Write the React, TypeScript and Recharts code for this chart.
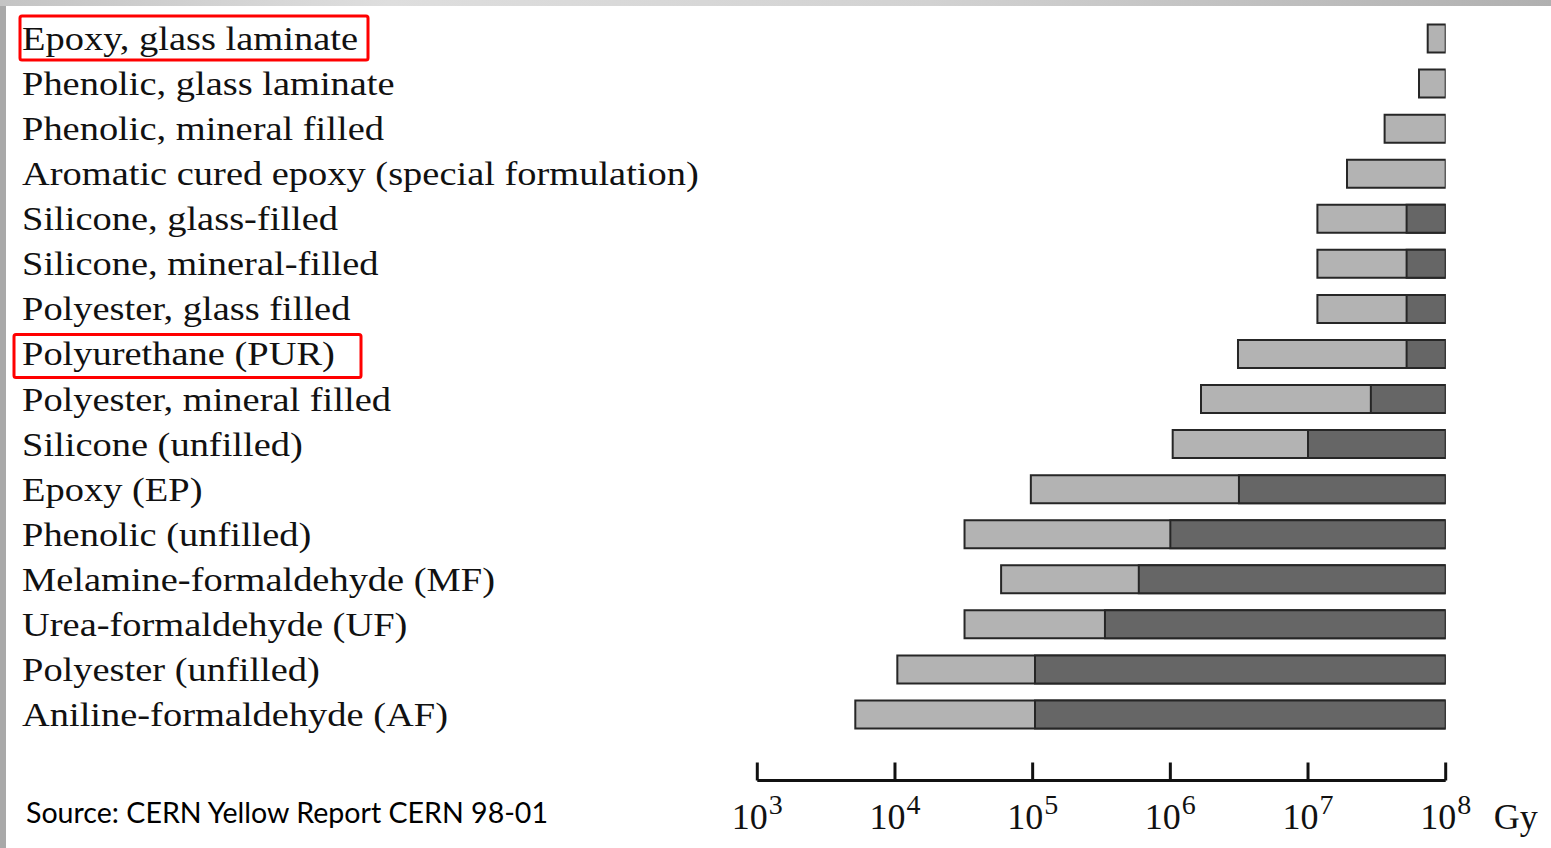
import React from "react";
import { BarChart, Bar, XAxis, YAxis } from "recharts";

const materials = [
  "Epoxy, glass laminate",
  "Phenolic, glass laminate",
  "Phenolic, mineral filled",
  "Aromatic cured epoxy (special formulation)",
  "Silicone, glass-filled",
  "Silicone, mineral-filled",
  "Polyester, glass filled",
  "Polyurethane (PUR)",
  "Polyester, mineral filled",
  "Silicone (unfilled)",
  "Epoxy (EP)",
  "Phenolic (unfilled)",
  "Melamine-formaldehyde (MF)",
  "Urea-formaldehyde (UF)",
  "Polyester (unfilled)",
  "Aniline-formaldehyde (AF)",
];

// dose (Gy) where the light band starts
const lightStart = [
  7.4e7, 6.4e7, 3.6e7, 1.92e7, 1.17e7, 1.17e7, 1.17e7, 3.1e6,
  1.67e6, 1.04e6, 9.7e4, 3.2e4, 5.9e4, 3.2e4, 1.04e4, 5.15e3,
];

// dose (Gy) where the dark band starts (null = no dark band)
const darkStart: (number | null)[] = [
  null, null, null, null, 5.2e7, 5.2e7, 5.2e7, 5.2e7,
  2.86e7, 1e7, 3.15e6, 1e6, 5.9e5, 3.35e5, 1.04e5, 1.04e5,
];

const maxDose = 1e8;
const doseTicks = [1e3, 1e4, 1e5, 1e6, 1e7, 1e8];
const highlighted = ["Epoxy, glass laminate", "Polyurethane (PUR)"];

const data = materials.map((name, i) => ({
  name,
  light: [lightStart[i], maxDose],
  dark: darkStart[i] === null ? null : [darkStart[i], maxDose],
}));

const serif = "'Liberation Serif', 'Times New Roman', serif";

const LabelTick = (props: any) => {
  const { y, payload } = props;
  const name: string = payload.value;
  const idx = highlighted.indexOf(name);
  return (
    <g>
      {idx === 0 && (
        <rect x={20} y={y - 22} width={348} height={44} rx={2} fill="none" stroke="#ff0000" strokeWidth={3} />
      )}
      {idx === 1 && (
        <rect x={14} y={y - 19} width={347} height={43} rx={2} fill="none" stroke="#ff0000" strokeWidth={3} />
      )}
      <text
        transform={`translate(22 ${y + 12}) scale(1.115 1)`}
        fontFamily={serif}
        fontSize={34.5}
        fill="#111"
      >
        {name}
      </text>
    </g>
  );
};

const PowerTick = (props: any) => {
  const { x, y, payload } = props;
  const exp = Math.round(Math.log10(payload.value));
  return (
    <g>
      <line x1={x} y1={y - 18} x2={x} y2={y} stroke="#111" strokeWidth={3} />
      <text x={x} y={y + 48} textAnchor="middle" fontFamily={serif} fontSize={36} fill="#111">
        <tspan>10</tspan>
        <tspan dx={1} dy={-15} fontSize={28}>{exp}</tspan>
      </text>
      {payload.value === maxDose && (
        <text x={x + 48} y={y + 48} fontFamily={serif} fontSize={36} fill="#111">
          Gy
        </text>
      )}
    </g>
  );
};

export default function App() {
  return (
    <div style={{ position: "absolute", left: 0, top: 0, width: 1551, height: 848, background: "#fff", overflow: "hidden" }}>
      <div
        style={{
          position: "absolute",
          left: 0,
          top: 0,
          width: 1551,
          height: 6,
          background: "linear-gradient(to right, #c4c4c4, #dedede 25%, #d2d2d2 60%, #b0b0b0)",
        }}
      />
      <div style={{ position: "absolute", left: 0, top: 6, width: 6, height: 842, background: "#a9a9a9" }} />
      <BarChart
        width={1551}
        height={848}
        layout="vertical"
        data={data}
        margin={{ top: 15.5, right: 105.3, bottom: 7.5, left: 0 }}
        barSize={28}
        barGap={-28}
        style={{ position: "absolute", left: 0, top: 0 }}
      >
        <XAxis
          type="number"
          scale="log"
          domain={[1e3, 1e8]}
          allowDataOverflow
          ticks={doseTicks}
          interval={0}
          height={60}
          tickSize={0}
          tickMargin={0}
          tickLine={false}
          axisLine={{ stroke: "#111", strokeWidth: 3 }}
          tick={<PowerTick />}
        />
        <YAxis
          type="category"
          dataKey="name"
          width={757.3}
          interval={0}
          axisLine={false}
          tickLine={false}
          padding={{ top: 0, bottom: 44 }}
          tick={<LabelTick />}
        />
        <Bar dataKey="light" fill="#b3b3b3" stroke="#262626" strokeWidth={2} isAnimationActive={false} />
        <Bar dataKey="dark" fill="#666666" stroke="#262626" strokeWidth={2} isAnimationActive={false} />
      </BarChart>
      <svg width={1551} height={848} style={{ position: "absolute", left: 0, top: 0, pointerEvents: "none" }}>
        <text x={26} y={823} fontFamily="Lato, 'Open Sans', sans-serif" fontSize={28} fill="#000" textLength={522} lengthAdjust="spacingAndGlyphs">
          Source: CERN Yellow Report CERN 98-01
        </text>
      </svg>
    </div>
  );
}
